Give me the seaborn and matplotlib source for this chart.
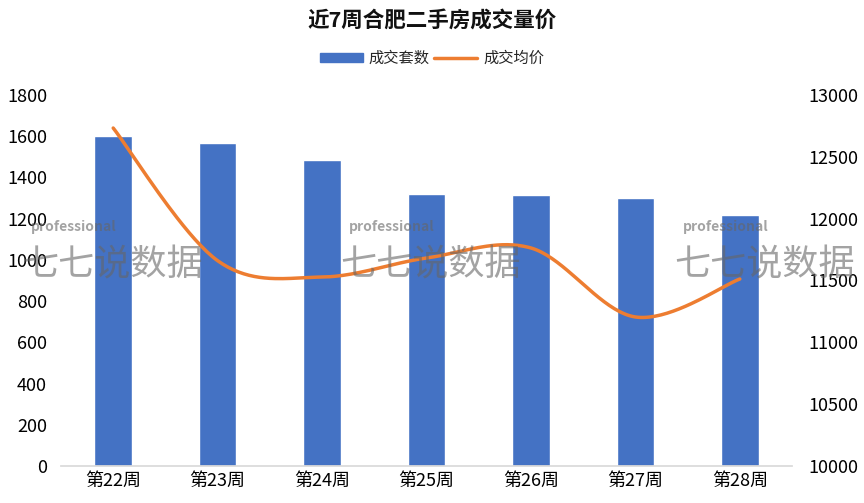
import numpy as np
import pandas as pd
import matplotlib
matplotlib.use("Agg")
import matplotlib.pyplot as plt
import seaborn as sns
from matplotlib.patches import Patch
from matplotlib.lines import Line2D

weeks = ["第22周", "第23周", "第24周", "第25周", "第26周", "第27周", "第28周"]
counts = [1601, 1567, 1485, 1320, 1315, 1300, 1218]
prices = [12733, 11660, 11528, 11682, 11763, 11205, 11512]
left_ticks = [0, 200, 400, 600, 800, 1000, 1200, 1400, 1600, 1800]
right_ticks = [10000, 10500, 11000, 11500, 12000, 12500, 13000]

sns.set_theme(style="white")
plt.rcParams['font.family'] = ['Noto Sans CJK SC', 'DejaVu Sans']

BAR = "#4472C4"
LINE = "#ED7D31"

fig = plt.figure(figsize=(8.64, 5.03), dpi=100)
ax = fig.add_axes([0.0706, 0.0736, 0.8461, 0.7375])

df = pd.DataFrame({"week": weeks, "count": counts})
sns.barplot(data=df, x="week", y="count", color=BAR, saturation=1, width=0.36, ax=ax)
ax.set_xlim(-0.5, 6.5)
ax.set_ylim(0, 1800)
ax.set_yticks(left_ticks)
ax.set_xlabel("")
ax.set_ylabel("")
for s in ["top", "right", "left"]:
    ax.spines[s].set_visible(False)
ax.spines["bottom"].set_color("#d9d9d9")
ax.tick_params(axis="y", length=0, labelsize=13, pad=10, colors="#000000")
ax.tick_params(axis="x", length=0, labelsize=13, pad=4, colors="#000000")

# Excel-like smoothed line (Catmull-Rom through the data points)
def catmull(xs, ys, n=40):
    xs = np.asarray(xs, float); ys = np.asarray(ys, float)
    px = np.concatenate([[xs[0]], xs, [xs[-1]]])
    py = np.concatenate([[ys[0]], ys, [ys[-1]]])
    ox, oy = [], []
    t = np.linspace(0, 1, n, endpoint=False)
    def cr(a0, a1, a2, a3):
        return 0.5 * ((2*a1) + (-a0 + a2)*t + (2*a0 - 5*a1 + 4*a2 - a3)*t**2 + (-a0 + 3*a1 - 3*a2 + a3)*t**3)
    for i in range(1, len(px) - 2):
        ox.append(cr(px[i-1], px[i], px[i+1], px[i+2]))
        oy.append(cr(py[i-1], py[i], py[i+1], py[i+2]))
    ox.append([xs[-1]]); oy.append([ys[-1]])
    return np.concatenate(ox), np.concatenate(oy)

ax2 = ax.twinx()
sx, sy = catmull(np.arange(len(prices)), prices)
sns.lineplot(x=sx, y=sy, color=LINE, linewidth=2.5, ax=ax2, sort=False, estimator=None)
ax2.set_ylim(10000, 13000)
ax2.set_yticks(right_ticks)
ax2.set_ylabel("")
for s in ["top", "right", "left", "bottom"]:
    ax2.spines[s].set_visible(False)
ax2.tick_params(axis="y", length=0, labelsize=13, pad=12, colors="#000000")
ax2.grid(False)
ax.grid(False)

# watermarks
for xw in [0.130, 0.498, 0.885]:
    fig.text(xw, 0.472, "七七说数据", ha="center", va="center", fontsize=26,
             color="#666666", alpha=0.6, zorder=10)
    fig.text(xw - 0.045, 0.548, "professional", ha="center", va="center", fontsize=10,
             color="#666666", alpha=0.6, fontweight="bold", zorder=10)

fig.text(0.5, 0.958, "近7周合肥二手房成交量价", ha="center", va="center",
         fontsize=15.5, fontweight="bold", color="#111111")
handles = [Patch(facecolor=BAR, edgecolor=BAR), Line2D([0], [0], color=LINE, lw=2.5)]
fig.legend(handles, ["成交套数", "成交均价"], loc="center", bbox_to_anchor=(0.5, 0.884),
           ncol=2, frameon=False, fontsize=11, handlelength=2.8, handleheight=0.6,
           columnspacing=0.3, handletextpad=0.4)

fig.savefig("out.png", dpi=100, facecolor="white")
